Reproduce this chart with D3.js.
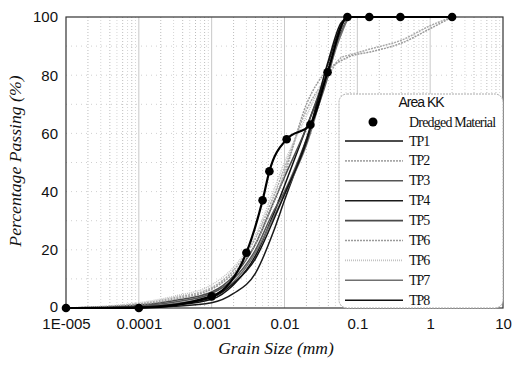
<!DOCTYPE html>
<html><head><meta charset="utf-8">
<script src="https://cdn.jsdelivr.net/npm/d3@7"></script>
<style>body{margin:0;background:#fff}</style>
</head><body><svg id="chart" width="513" height="365"></svg>
<script>
// Axis ticks
const xTickValues = [1e-5, 1e-4, 1e-3, 1e-2, 1e-1, 1, 10];
const xTickLabels = ["1E-005", "0.0001", "0.001", "0.01", "0.1", "1", "10"];
const yTicks = [0, 20, 40, 60, 80, 100];

// Dredged material sample (grain size mm, % passing)
const dredgedSize    = [1e-5, 1e-4, 0.001, 0.003, 0.005, 0.0062, 0.0107, 0.0227, 0.039, 0.073, 0.146, 0.39, 2];
const dredgedPassing = [0,    0,    4,     19,    37,    47,     58,     63,     81,    100,   100,   100,  100];

// Test pit gradings, all sampled at the same grain sizes (mm)
const tpSize = [1e-5, 1e-4, 3e-4, 1e-3, 2e-3, 4e-3, 7e-3, 0.01, 0.02, 0.04, 0.06, 0.08, 0.15, 0.4, 1, 2];
const tp1  = [0, 0.3, 1.0, 3.0, 8.0, 18, 32, 42, 62, 82, 95, 100, 100, 100, 100, 100];
const tp2  = [0, 1.5, 3.5, 7.0, 13, 24, 38, 48, 68, 80, 86, 87, 89, 92, 97, 100];
const tp3  = [0, 0.8, 2.0, 5.0, 10, 20, 33, 40, 58, 80, 96, 100, 100, 100, 100, 100];
const tp4  = [0, 0.2, 0.6, 1.8, 5.0, 12, 26, 37, 58, 84, 97, 100, 100, 100, 100, 100];
const tp5  = [0, 1.0, 2.5, 5.5, 11, 22, 36, 45, 62, 83, 95, 100, 100, 100, 100, 100];
const tp6a = [0, 1.2, 3.0, 6.5, 12, 22, 36, 46, 70, 82, 85, 86.5, 88, 91, 96, 100];
const tp6b = [0, 1.8, 4.0, 8.0, 14, 25, 40, 50, 66, 83, 96, 100, 100, 100, 100, 100];
const tp7  = [0, 0.6, 1.5, 4.0, 9.0, 19, 31, 39, 56, 81, 94, 100, 100, 100, 100, 100];
const tp8  = [0, 0.4, 1.2, 3.5, 8.5, 17, 30, 39, 57, 85, 98, 100, 100, 100, 100, 100];

const seriesNames  = ["TP1", "TP2", "TP3", "TP4", "TP5", "TP6", "TP6", "TP7", "TP8"];
const seriesValues = [tp1, tp2, tp3, tp4, tp5, tp6a, tp6b, tp7, tp8];
const seriesColors = ["#111", "#a8a8a8", "#555", "#1a1a1a", "#4a4a4a", "#9a9a9a", "#c2c2c2", "#707070", "#111"];
const seriesDash   = [null, "2,1", null, null, null, "2,1", "1,1", null, null];

const svg = d3.select("#chart");
const L = 66, R = 503, T = 17, B = 308;
const x = d3.scaleLog().domain([1e-5, 10]).range([L, R]);
const y = d3.scaleLinear().domain([0, 100]).range([B, T]);

// grid
const grid = svg.append("g");
for (let e = -5; e < 1; e++) {
  for (let m = 2; m <= 9; m++) {
    const v = m * Math.pow(10, e);
    grid.append("line")
      .attr("x1", x(v)).attr("x2", x(v)).attr("y1", T).attr("y2", B)
      .attr("stroke", (m % 2 === 0) ? "#bdbdbd" : "#d6d6d6")
      .attr("stroke-width", 1)
      .attr("stroke-dasharray", "1,2");
  }
}
xTickValues.slice(1, -1).forEach(v => {
  grid.append("line")
    .attr("x1", x(v)).attr("x2", x(v)).attr("y1", T).attr("y2", B)
    .attr("stroke", "#c8c8c8").attr("stroke-width", 1);
});
d3.range(10, 100, 10).forEach(v => {
  grid.append("line")
    .attr("x1", L).attr("x2", R).attr("y1", y(v)).attr("y2", y(v))
    .attr("stroke", "#d0d0d0").attr("stroke-width", 1)
    .attr("stroke-dasharray", "1,4");
});

// frame
svg.append("rect").attr("x", L).attr("y", T).attr("width", R - L).attr("height", B - T)
  .attr("fill", "none").attr("stroke", "#333").attr("stroke-width", 1.2);

// axes
const xAxis = d3.axisBottom(x).tickValues(xTickValues)
  .tickFormat((d, i) => xTickLabels[i]).tickSize(0).tickPadding(10);
svg.append("g").attr("transform", `translate(0,${B})`).call(xAxis)
  .call(g => g.select(".domain").remove())
  .selectAll("text").attr("font-family", "Liberation Sans, Arial, sans-serif")
  .attr("font-size", 15).attr("fill", "#111");

const yAxis = d3.axisLeft(y).tickValues(yTicks).tickSize(0).tickPadding(8);
svg.append("g").attr("transform", `translate(${L},0)`).call(yAxis)
  .call(g => g.select(".domain").remove())
  .selectAll("text").attr("font-family", "Liberation Sans, Arial, sans-serif")
  .attr("font-size", 15).attr("fill", "#111")
  .attr("dy", d => d === 0 ? "0.2em" : "0.32em");

// axis titles
svg.append("text").attr("x", 276).attr("y", 354).attr("text-anchor", "middle")
  .attr("font-family", "Liberation Serif, Times New Roman, serif").attr("font-style", "italic")
  .attr("font-size", 17.5).attr("fill", "#111").text("Grain Size (mm)");
svg.append("text").attr("transform", "translate(21,161) rotate(-90)").attr("text-anchor", "middle")
  .attr("font-family", "Liberation Serif, Times New Roman, serif").attr("font-style", "italic")
  .attr("font-size", 17.7).attr("fill", "#111").text("Percentage Passing (%)");

// curves
const line = d3.line().x(d => x(d[0])).y(d => y(d[1])).curve(d3.curveMonotoneX);
const curves = svg.append("g");
seriesValues.forEach((vals, i) => {
  curves.append("path")
    .attr("d", line(tpSize.map((s, k) => [s, vals[k]])))
    .attr("fill", "none").attr("stroke", seriesColors[i]).attr("stroke-width", 1.5)
    .attr("stroke-dasharray", seriesDash[i]);
});
const dredged = dredgedSize.map((s, k) => [s, dredgedPassing[k]]);
curves.append("path").attr("d", line(dredged))
  .attr("fill", "none").attr("stroke", "#000").attr("stroke-width", 2.2);
curves.selectAll("circle.pt").data(dredged).join("circle").attr("class", "pt")
  .attr("cx", d => x(d[0])).attr("cy", d => y(d[1])).attr("r", 4.3).attr("fill", "#000");

// legend
const lg = svg.append("g");
lg.append("rect").attr("x", 339).attr("y", 94).attr("width", 164).attr("height", 214)
  .attr("rx", 8).attr("fill", "#fff").attr("stroke", "#aaa").attr("stroke-width", 1)
  .attr("stroke-dasharray", "2,1");
lg.append("text").attr("x", 421).attr("y", 107).attr("text-anchor", "middle")
  .attr("font-family", "Liberation Sans, Arial, sans-serif").attr("font-size", 14)
  .attr("letter-spacing", -1).attr("fill", "#111").text("Area KK");
lg.append("circle").attr("cx", 373).attr("cy", 122).attr("r", 4.5).attr("fill", "#000");
lg.append("text").attr("x", 409).attr("y", 126.5)
  .attr("font-family", "Liberation Serif, Times New Roman, serif").attr("font-size", 14)
  .attr("letter-spacing", -0.8).attr("fill", "#111").text("Dredged Material");
seriesNames.forEach((n, i) => {
  const yy = 141 + i * 19.9;
  lg.append("line").attr("x1", 345).attr("x2", 403).attr("y1", yy).attr("y2", yy)
    .attr("stroke", seriesColors[i]).attr("stroke-width", 1.6)
    .attr("stroke-dasharray", seriesDash[i]);
  lg.append("text").attr("x", 409).attr("y", yy + 4.5)
    .attr("font-family", "Liberation Serif, Times New Roman, serif").attr("font-size", 14)
    .attr("letter-spacing", -1).attr("fill", "#111").text(n);
});
</script></body></html>
